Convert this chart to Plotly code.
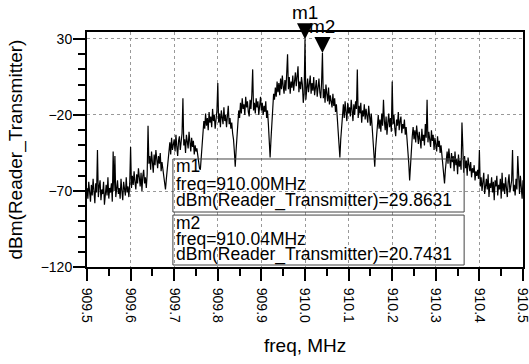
import plotly.graph_objects as go

# ---- data ----
freq_start = 909.5
freq_step = 0.002
level_dbm = [
    -68, -75, -64, -72, -77, -66, -73, -62, -70, -78,
    -65, -71, -43, -74, -67, -63, -76, -69, -72, -64,
    -79, -70, -66, -73, -61, -75, -68, -71, -65, -77,
    -44, -70, -47, -74, -66, -63, -72, -68, -75, -62,
    -70, -76, -64, -69, -73, -61, -71, -67, -74, -65,
    -41, -68, -60, -66, -57, -64, -69, -59, -65, -55,
    -63, -67, -58, -70, -60, -56, -65, -61, -68, -59,
    -27, -52, -47, -56, -44, -51, -58, -46, -53, -43,
    -50, -55, -47, -52, -45, -57, -51, -56, -60, -64,
    -69, -62, -55, -48, -42, -38, -46, -35, -43, -40,
    -36, -44, -33, -41, -47, -37, -34, -43, -39, -32,
    -9, -40, -36, -45, -33, -38, -42, -31, -39, -44,
    -35, -41, -37, -46, -40, -44, -42, -48, -52, -55,
    -56, -48, -38, -30, -24, -29, -19, -27, -22, -30,
    -18, -25, -21, -28, -16, -24, -20, -29, -23, -17,
    1, -25, -19, -28, -17, -22, -26, -15, -24, -20,
    -28, -21, -14, -26, -22, -29, -25, -32, -36, -44,
    -54, -43, -33, -24, -17, -22, -12, -19, -9, -16,
    -13, -20, -8, -15, -11, -18, -21, -10, -16, -7,
    10, -17, -12, -19, -9, -15, -11, -20, -13, -8,
    -17, -12, -20, -14, -18, -11, -22, -17, -26, -34,
    -48, -36, -24, -13, -6, -10, -2, -8, 2, -5,
    1, -7, 4, -3, 6, -1, -6, 3, -4, 7,
    20, -3, 5, -6, 2, -2, 6, -4, 3, 8,
    -1, 4, 12, -5, 2, -3, 5, 0, -12, -6,
    29.8631, -10, -3, 4, -5, 2, 6, -6, 1, -4,
    5, -7, 0, 3, -8, -2, 4, -5, -9, 1,
    20.7431, -9, -3, -12, 0, -6, -11, -2, -13, -7,
    -10, -15, -6, -14, -9, -18, -13, -22, -28, -38,
    -48, -36, -26, -20, -13, -22, -11, -18, -24, -12,
    -19, -15, -21, -10, -17, -24, -13, -20, -11, -16,
    10, -22, -14, -19, -12, -25, -17, -21, -13, -23,
    -16, -20, -25, -14, -22, -27, -19, -28, -35, -44,
    -54, -42, -33, -26, -20, -29, -23, -31, -19, -27,
    -10, -24, -30, -21, -33, -25, -19, -28, -22, -31,
    2, -26, -20, -29, -34, -23, -27, -18, -30, -24,
    -21, -32, -26, -29, -23, -33, -28, -36, -42, -52,
    -63, -50, -40, -34, -28, -36, -30, -38, -27, -33,
    -39, -31, -36, -42, -29, -37, -33, -40, -26, -35,
    -10, -38, -31, -36, -41, -30, -37, -33, -43, -35,
    -39, -44, -34, -41, -37, -45, -40, -47, -52, -58,
    -65, -56, -48, -44, -52, -42, -49, -55, -45, -51,
    -47, -57, -44, -53, -49, -59, -46, -54, -50, -56,
    -25, -52, -58, -47, -55, -50, -60, -48, -54, -57,
    -51, -61, -55, -58, -53, -63, -57, -60, -56, -62,
    -43, -67, -61, -70, -64, -58, -72, -66, -62, -69,
    -59, -74, -65, -68, -61, -71, -64, -76, -63, -67,
    -60, -73, -66, -69, -62, -75, -58, -70, -65, -72,
    -61, -68, -74, -64, -59, -71, -67, -63, -43, -70,
    -66, -73, -62, -69, -47, -65, -72, -60, -68, -75,
    -63,
]
freq_mhz = [round(freq_start + i * freq_step, 3) for i in range(len(level_dbm))]

marker_names = ["m1", "m2"]
marker_freq = [910.00, 910.04]
marker_value = [29.8631, 20.7431]

x_ticks = [909.5, 909.6, 909.7, 909.8, 909.9, 910.0, 910.1, 910.2, 910.3, 910.4, 910.5]
y_ticks = [30, -20, -70, -120]

FONT = "Arial, Liberation Sans, sans-serif"

fig = go.Figure()
fig.add_trace(go.Scatter(
    x=freq_mhz, y=level_dbm, mode="lines",
    line=dict(color="black", width=1.2), hoverinfo="skip", showlegend=False,
))
fig.add_trace(go.Scatter(
    x=marker_freq, y=marker_value, mode="markers",
    marker=dict(symbol="arrow-down", size=16, color="black", line=dict(width=0)),
    cliponaxis=False, showlegend=False, hoverinfo="skip",
))

annotations = []
for name, fx, fy in zip(marker_names, marker_freq, marker_value):
    annotations.append(dict(
        x=fx, y=fy, xref="x", yref="y", text=name, showarrow=False,
        yanchor="bottom", xanchor="center", yshift=14,
        font=dict(family=FONT, size=19, color="black"),
    ))

# marker readout boxes
box_rows = [(0.4298, 0.3532, 0.2809), (0.1872, 0.1191, 0.0511)]
box_edges = [(0.4596, 0.234), (0.221, 0.0085)]
shapes = []
for (yt, yb) in box_edges:
    shapes.append(dict(type="rect", xref="paper", yref="paper",
                       x0=0.197, x1=0.865, y0=yb, y1=yt,
                       line=dict(color="#444444", width=1)))
for name, fx, fy, rows in zip(marker_names, marker_freq, marker_value, box_rows):
    lines = [name, f"freq={fx:.2f}MHz", f"dBm(Reader_Transmitter)={fy:.4f}"]
    for txt, ry in zip(lines, rows):
        annotations.append(dict(
            x=0.1995, y=ry, xref="paper", yref="paper", text=txt,
            showarrow=False, xanchor="left", yanchor="middle",
            font=dict(family=FONT, size=17.5, color="black"),
        ))

# axis titles
annotations.append(dict(
    x=-0.1651, y=0.5, xref="paper", yref="paper", text="dBm(Reader_Transmitter)",
    textangle=-90, showarrow=False, xanchor="center", yanchor="middle",
    font=dict(family=FONT, size=19, color="black"),
))
annotations.append(dict(
    x=0.5, y=-0.332, xref="paper", yref="paper", text="freq, MHz",
    showarrow=False, xanchor="center", yanchor="middle",
    font=dict(family=FONT, size=19, color="black"),
))

fig.update_layout(
    width=529, height=364,
    margin=dict(l=87, r=6, t=32, b=97, autoexpand=False),
    paper_bgcolor="white", plot_bgcolor="white",
    font=dict(family=FONT, color="black"),
    shapes=shapes, annotations=annotations,
    showlegend=False,
)
fig.update_xaxes(
    range=[909.5, 910.5], tickvals=x_ticks, ticktext=[f"{v:.1f}" for v in x_ticks],
    tickangle=90, tickfont=dict(size=14, color="black"),
    ticks="outside", ticklen=12, tickwidth=1.5, tickcolor="black",
    ticklabeloverflow="allow", ticklabelstandoff=4,
    showline=True, linewidth=2, linecolor="black", mirror=True,
    showgrid=True, gridcolor="#999999", griddash="dot", gridwidth=1,
    zeroline=False, automargin=False,
    minor=dict(dtick=0.05, tick0=909.5, ticks="outside", ticklen=7, tickcolor="black", showgrid=False),
)
fig.update_yaxes(
    range=[-120, 34.6], tickvals=y_ticks,
    tickfont=dict(size=14, color="black"),
    ticks="outside", ticklen=12, tickwidth=1.5, tickcolor="black",
    ticklabeloverflow="allow", ticklabelstandoff=-2,
    showline=True, linewidth=2, linecolor="black", mirror=True,
    showgrid=True, gridcolor="#999999", griddash="dot", gridwidth=1,
    zeroline=False, automargin=False,
    minor=dict(dtick=10, tick0=-120, ticks="outside", ticklen=7, tickcolor="black", showgrid=False),
)

fig.write_html("out.html", config={"displayModeBar": False},
               post_script="document.body.style.margin='0';")
